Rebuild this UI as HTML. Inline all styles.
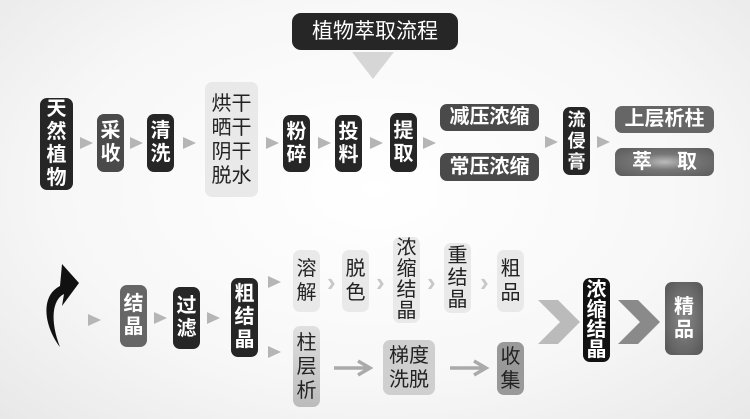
<!DOCTYPE html>
<html><head><meta charset="utf-8"><style>
body{margin:0;width:750px;height:419px;overflow:hidden;background:#f3f3f3;font-family:"Liberation Sans","Noto Sans CJK SC",sans-serif;position:relative}
.b{position:absolute;border-radius:7px;display:flex;align-items:center;justify-content:center;text-align:center;color:#fff;font-size:20px;line-height:23px;font-weight:bold;box-sizing:border-box}
.d{background:#262626}.m{background:#4a4a4a}.g{background:#666}
.l{background:#e9e9e9;color:#222;font-weight:normal;line-height:24px}
.a{position:absolute;width:0;height:0;border-top:6px solid transparent;border-bottom:6px solid transparent;border-left:13px solid #b5b5b5}
.c{position:absolute;color:#c8c8c8;font-size:26px;font-weight:bold;line-height:26px}
</style></head><body>
<div style="position:absolute;left:0;top:0;width:750px;height:419px;background:radial-gradient(ellipse at 50% 45%,#fff 0%,#f7f7f7 60%,#e8e8e8 100%)"></div>
<div class="b d" style="left:292px;top:13px;width:166px;height:37px;font-size:21px;font-weight:normal;border-radius:9px">植物萃取流程</div>
<svg style="position:absolute;left:352px;top:52px" width="42" height="28"><polygon points="0,0 42,0 21,27" fill="#d6d6d6"/></svg>

<div class="b d" style="left:40px;top:98px;width:33px;height:92px">天<br>然<br>植<br>物</div>
<div class="a" style="left:80px;top:137px"></div>
<div class="b m" style="left:97px;top:114px;width:27px;height:58px">采<br>收</div>
<div class="a" style="left:130px;top:137px"></div>
<div class="b d" style="left:147px;top:114px;width:27px;height:58px">清<br>洗</div>
<div class="a" style="left:183px;top:137px"></div>
<div class="b l" style="left:205px;top:82px;width:53px;height:115px;font-size:20px">烘干<br>晒干<br>阴干<br>脱水</div>
<div class="a" style="left:266px;top:137px"></div>
<div class="b d" style="left:283px;top:115px;width:27px;height:57px">粉<br>碎</div>
<div class="a" style="left:318px;top:137px"></div>
<div class="b d" style="left:335px;top:115px;width:27px;height:57px">投<br>料</div>
<div class="a" style="left:370px;top:137px"></div>
<div class="b d" style="left:390px;top:113px;width:27px;height:59px">提<br>取</div>
<div class="a" style="left:423px;top:137px"></div>
<div class="b m" style="left:440px;top:104px;width:99px;height:27px">减压浓缩</div>
<div class="b m" style="left:440px;top:153px;width:99px;height:28px">常压浓缩</div>
<div class="a" style="left:545px;top:136px"></div>
<div class="b d" style="left:563px;top:107px;width:27px;height:68px;font-size:18px;line-height:21px">流<br>侵<br>膏</div>
<div class="a" style="left:597px;top:136px"></div>
<div class="b g" style="left:615px;top:106px;width:99px;height:27px">上层析柱</div>
<div class="b" style="left:615px;top:148px;width:99px;height:28px;background:radial-gradient(ellipse at 50% 50%,#bbb 0%,#777 40%,#5a5a5a 100%);justify-content:space-between;padding:0 17px">萃<span>取</span></div>

<svg style="position:absolute;left:38px;top:256px" width="45" height="95"><path d="M22,91 C6,70 2,40 22,30 L24,8 L41,27 L24,50 L26,38 C14,44 12,65 22,91 Z" fill="#111"/></svg>
<div class="a" style="left:88px;top:314px"></div>
<div class="b g" style="left:120px;top:285px;width:27px;height:62px">结<br>晶</div>
<div class="a" style="left:154px;top:312px"></div>
<div class="b d" style="left:173px;top:287px;width:27px;height:62px">过<br>滤</div>
<div class="a" style="left:207px;top:312px"></div>
<div class="b d" style="left:231px;top:278px;width:27px;height:79px">粗<br>结<br>晶</div>
<div class="a" style="left:268px;top:276px"></div>
<div class="b l" style="left:293px;top:250px;width:27px;height:62px">溶<br>解</div>
<div class="c" style="left:327px;top:269px">›</div>
<div class="b l" style="left:342px;top:250px;width:27px;height:62px">脱<br>色</div>
<div class="c" style="left:376px;top:269px">›</div>
<div class="b l" style="left:393px;top:237px;width:27px;height:86px;line-height:21px">浓<br>缩<br>结<br>晶</div>
<div class="c" style="left:427px;top:269px">›</div>
<div class="b l" style="left:444px;top:243px;width:27px;height:70px;line-height:22px">重<br>结<br>晶</div>
<div class="c" style="left:480px;top:269px">›</div>
<div class="b l" style="left:497px;top:250px;width:27px;height:62px">粗<br>品</div>
<div class="a" style="left:268px;top:346px"></div>
<div class="b l" style="left:293px;top:326px;width:27px;height:81px;background:linear-gradient(#e0e0e0,#bbb)">柱<br>层<br>析</div>
<svg style="position:absolute;left:332px;top:358px" width="42" height="20"><path d="M2,10 H36 M26,3 L38,10 L26,17" stroke="#aaa" stroke-width="3.5" fill="none"/></svg>
<div class="b l" style="left:383px;top:340px;width:52px;height:55px;background:#cfcfcf">梯度<br>洗脱</div>
<svg style="position:absolute;left:448px;top:358px" width="42" height="20"><path d="M2,10 H36 M26,3 L38,10 L26,17" stroke="#aaa" stroke-width="3.5" fill="none"/></svg>
<div class="b l" style="left:497px;top:342px;width:27px;height:53px;background:#999">收<br>集</div>
<svg style="position:absolute;left:538px;top:300px" width="45" height="45"><polygon points="0,0 20,0 42,22 20,44 0,44 22,22" fill="#bbb"/></svg>
<div class="b d" style="left:583px;top:278px;width:27px;height:84px;background:#111;line-height:20px">浓<br>缩<br>结<br>晶</div>
<svg style="position:absolute;left:618px;top:300px" width="45" height="45"><polygon points="0,0 20,0 42,22 20,44 0,44 22,22" fill="#8a8a8a"/></svg>
<div class="b g" style="left:665px;top:282px;width:38px;height:73px;background:radial-gradient(ellipse at 50% 50%,#888,#555)">精<br>品</div>
</body></html>
